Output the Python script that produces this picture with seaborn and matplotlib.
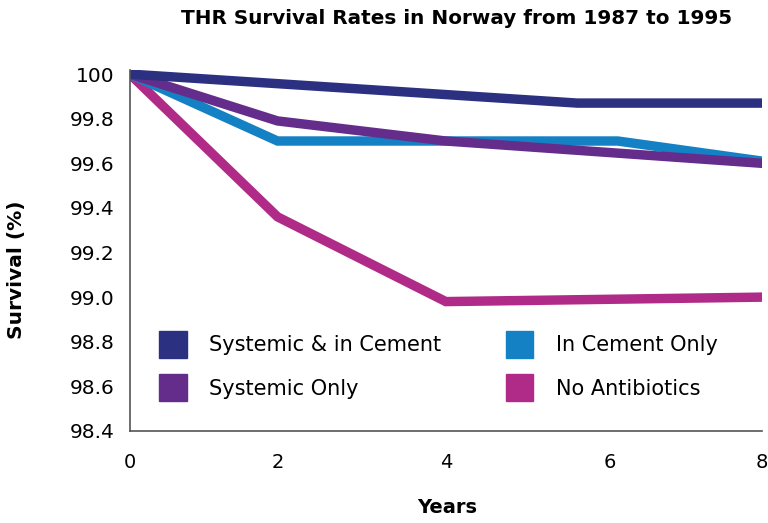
import numpy as np
import pandas as pd
import seaborn as sns
import matplotlib.pyplot as plt
from matplotlib.patches import Patch
from matplotlib.ticker import FuncFormatter

# survival data
years_a = [0, 5.6, 8]
sys_cement = [100.0, 99.87, 99.87]
years_b = [0, 2, 6.1, 8]
cement_only = [100.0, 99.70, 99.70, 99.61]
years_c = [0, 2, 4, 8]
systemic_only = [100.0, 99.79, 99.70, 99.60]
years_d = [0, 2, 4, 8]
no_abx = [100.0, 99.36, 98.98, 99.0]

labels = ["Systemic & in Cement", "In Cement Only", "Systemic Only", "No Antibiotics"]
colors = ["#2b3080", "#1581c5", "#652d8b", "#b02a88"]

frames = []
for lab, xs, ys in [(labels[0], years_a, sys_cement), (labels[1], years_b, cement_only),
                    (labels[2], years_c, systemic_only), (labels[3], years_d, no_abx)]:
    frames.append(pd.DataFrame({"Years": xs, "Survival": ys, "group": lab}))
df = pd.concat(frames, ignore_index=True)

sns.set_style("white")
plt.rcParams['font.family'] = ['DejaVu Sans']
plt.rcParams['text.color'] = 'black'
plt.rcParams['xtick.color'] = 'black'
plt.rcParams['ytick.color'] = 'black'

fig = plt.figure(figsize=(7.68, 5.23), dpi=100)
ax = fig.add_axes([0.169, 0.176, 0.823, 0.690])

# the original x axis is not evenly spaced
tick_years = [0, 2, 4, 6, 8]
tick_pos = [0, 1.87, 4.0, 6.08, 8]
ax.set_xscale('function', functions=(lambda v: np.interp(v, tick_years, tick_pos),
                                     lambda v: np.interp(v, tick_pos, tick_years)))

# draw order: magenta at the bottom, navy on top
order = [labels[3], labels[1], labels[2], labels[0]]
for lab in order:
    sub = df[df["group"] == lab]
    sns.lineplot(data=sub, x="Years", y="Survival", ax=ax, color=colors[labels.index(lab)],
                 lw=6.8, solid_joinstyle='miter', legend=False, sort=False)

ax.set_xlim(0, 8)
ax.set_ylim(98.4, 100.018)
ax.set_xticks(tick_years)
ax.set_yticks(np.arange(98.4, 100.01, 0.2))
ax.yaxis.set_major_formatter(FuncFormatter(lambda v, p: '100' if abs(v - 100) < 1e-6 else f'{v:.1f}'))

for s in ['top', 'right']:
    ax.spines[s].set_visible(False)
for s in ['left', 'bottom']:
    ax.spines[s].set_color('#555555')
    ax.spines[s].set_linewidth(1.2)
ax.tick_params(axis='y', length=9, width=1.2, color='#333333', labelsize=14.5, pad=2)
ax.tick_params(axis='x', length=10, width=1.2, color='#333333', labelsize=14, pad=6)
ax.set_xlabel("")
ax.set_ylabel("")

fig.text(0.021, 0.485, "Survival (%)", rotation=90, fontsize=14.5, fontweight='bold',
         ha='center', va='center')
fig.text(0.582, 0.03, "Years", fontsize=14, fontweight='bold', ha='center', va='center')
fig.text(0.594, 0.965, "THR Survival Rates in Norway from 1987 to 1995", fontsize=14.4,
         fontweight='bold', ha='center', va='center')

handles = [Patch(color=colors[0], label=labels[0]), Patch(color=colors[2], label=labels[2]),
           Patch(color=colors[1], label=labels[1]), Patch(color=colors[3], label=labels[3])]
ax.legend(handles=handles, ncol=2, loc='upper left', bbox_to_anchor=(0.047, 0.277),
          frameon=False, fontsize=15, handlelength=1.3, handleheight=1.6,
          handletextpad=1.1, labelspacing=0.8, columnspacing=3.1, borderpad=0,
          borderaxespad=0)

plt.savefig("out.png", dpi=100)
